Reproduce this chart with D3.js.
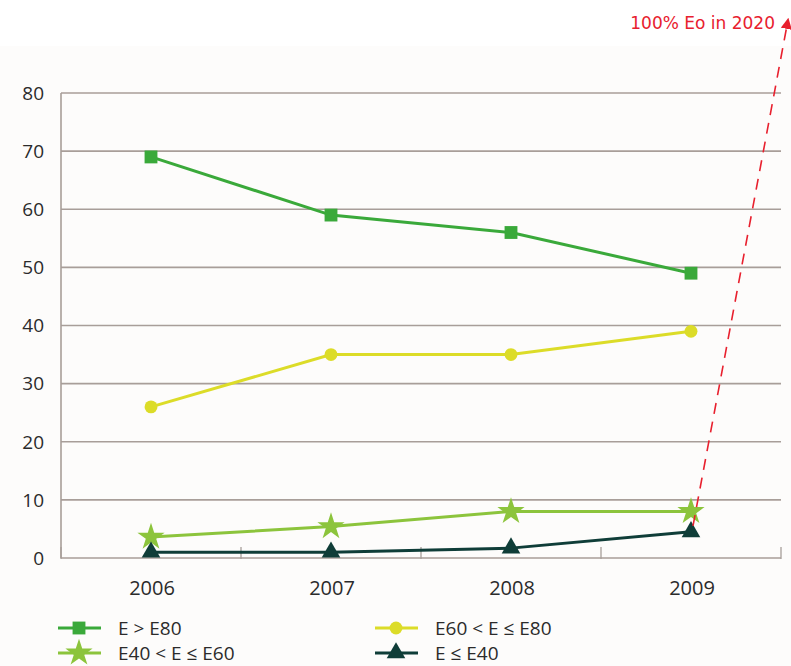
<!DOCTYPE html>
<html>
<head>
<meta charset="utf-8">
<script src="https://cdn.jsdelivr.net/npm/d3@7"></script>
<style>
  html, body { margin: 0; padding: 0; background: #ffffff; }
  svg { display: block; }
</style>
</head>
<body>
<svg id="chart" width="791" height="666"></svg>
<script>
// Years on the horizontal axis
const years = ["2006", "2007", "2008", "2009"];

// Share per energy class, one array per series
const eAbove80 = [69, 59, 56, 49];
const e60to80 = [26, 35, 35, 39];
const e40to60 = [3.6, 5.4, 8, 8];
const eBelow40 = [1, 1, 1.7, 4.5];

const yTicks = [0, 10, 20, 30, 40, 50, 60, 70, 80];

const seriesNames = ["E > E80", "E60 < E \u2264 E80", "E40 < E \u2264 E60", "E \u2264 E40"];

const annotationText = "100% Eo in 2020";

const series = [
  { name: seriesNames[0], values: eAbove80, color: "#3aa93a", symbol: d3.symbolSquare, size: 165 },
  { name: seriesNames[1], values: e60to80, color: "#dcdc28", symbol: d3.symbolCircle, size: 130 },
  { name: seriesNames[2], values: e40to60, color: "#8cc43c", symbol: d3.symbolStar, size: 230 },
  { name: seriesNames[3], values: eBelow40, color: "#0f3d38", symbol: d3.symbolTriangle, size: 150 }
];

const svg = d3.select("#chart");
const gridColor = "#a89e99";
const textColor = "#2b2b2b";
const fontFamily = "'Open Sans', 'Noto Sans', sans-serif";

// faint tint behind the plotting area
svg.append("rect")
  .attr("x", 0).attr("y", 46).attr("width", 791).attr("height", 620)
  .attr("fill", "#fdfcfb");

const x = d3.scaleBand().domain(years).range([61, 781]).padding(0);
const y = d3.scaleLinear().domain([0, 80]).range([558, 93]);
const cx = d => x(d) + x.bandwidth() / 2;

// horizontal gridlines
svg.append("g")
  .selectAll("line")
  .data(yTicks)
  .join("line")
  .attr("x1", 61).attr("x2", 781)
  .attr("y1", d => y(d)).attr("y2", d => y(d))
  .attr("stroke", gridColor)
  .attr("stroke-width", 1.6);

// y axis line + labels
svg.append("line")
  .attr("x1", 61).attr("x2", 61)
  .attr("y1", y(80)).attr("y2", y(0))
  .attr("stroke", gridColor).attr("stroke-width", 1.6);

svg.append("g")
  .selectAll("text")
  .data(yTicks)
  .join("text")
  .attr("x", 44)
  .attr("y", d => y(d))
  .attr("dy", "0.36em")
  .attr("text-anchor", "end")
  .attr("font-family", fontFamily)
  .attr("font-size", 19)
  .attr("font-weight", 500)
  .attr("fill", textColor)
  .text(d => d);

// x axis: boundary ticks between years
const bounds = years.map(d => x(d)).concat([x(years[years.length - 1]) + x.bandwidth()]);
svg.append("g")
  .selectAll("line")
  .data(bounds)
  .join("line")
  .attr("x1", d => d).attr("x2", d => d)
  .attr("y1", y(0) - 11).attr("y2", y(0) + 1)
  .attr("stroke", gridColor).attr("stroke-width", 1.3);

svg.append("g")
  .selectAll("text")
  .data(years)
  .join("text")
  .attr("x", d => cx(d) + 1)
  .attr("y", 595)
  .attr("text-anchor", "middle")
  .attr("font-family", fontFamily)
  .attr("font-size", 20)
  .attr("font-weight", 500)
  .attr("fill", textColor)
  .text(d => d);

// series lines and markers
const line = d3.line().x((d, i) => cx(years[i])).y(d => y(d));

series.forEach(s => {
  svg.append("path")
    .datum(s.values)
    .attr("d", line)
    .attr("fill", "none")
    .attr("stroke", s.color)
    .attr("stroke-width", 3);
  svg.append("g")
    .selectAll("path")
    .data(s.values)
    .join("path")
    .attr("transform", (d, i) => `translate(${cx(years[i])},${y(d)})`)
    .attr("d", d3.symbol().type(s.symbol).size(s.size))
    .attr("fill", s.color);
});

// dashed projection towards the 2020 target
const startX = cx("2009") + 2;
const startY = y(eBelow40[3]) - 6;
const endX = 788, endY = 20;
svg.append("defs").append("marker")
  .attr("id", "arrow")
  .attr("viewBox", "0 0 10 10")
  .attr("refX", 8).attr("refY", 5)
  .attr("markerWidth", 7).attr("markerHeight", 7)
  .attr("orient", "auto")
  .append("path")
  .attr("d", "M0,0 L10,5 L0,10 z")
  .attr("fill", "#e8202e");

svg.append("line")
  .attr("x1", startX).attr("y1", startY)
  .attr("x2", endX).attr("y2", endY)
  .attr("stroke", "#e8202e")
  .attr("stroke-width", 1.6)
  .attr("stroke-dasharray", "11,8")
  .attr("marker-end", "url(#arrow)");

svg.append("text")
  .attr("x", 775).attr("y", 29)
  .attr("text-anchor", "end")
  .attr("font-family", "'DejaVu Sans', sans-serif")
  .attr("font-size", 17)
  .attr("fill", "#e8202e")
  .text(annotationText);

// legend
const legendPos = [
  { lx: 58, tx: 118, ly: 628 },
  { lx: 375, tx: 435, ly: 628 },
  { lx: 58, tx: 118, ly: 653 },
  { lx: 375, tx: 435, ly: 653 }
];

series.forEach((s, i) => {
  const p = legendPos[i];
  const g = svg.append("g");
  g.append("line")
    .attr("x1", p.lx).attr("x2", p.lx + 43)
    .attr("y1", p.ly).attr("y2", p.ly)
    .attr("stroke", s.color).attr("stroke-width", 3);
  g.append("path")
    .attr("transform", `translate(${p.lx + 21},${p.ly})`)
    .attr("d", d3.symbol().type(s.symbol).size(s.size))
    .attr("fill", s.color);
  g.append("text")
    .attr("x", p.tx).attr("y", p.ly)
    .attr("dy", "0.36em")
    .attr("font-family", fontFamily)
    .attr("font-size", 19)
    .attr("font-weight", 500)
    .attr("fill", textColor)
    .text(s.name);
});
</script>
</body>
</html>
